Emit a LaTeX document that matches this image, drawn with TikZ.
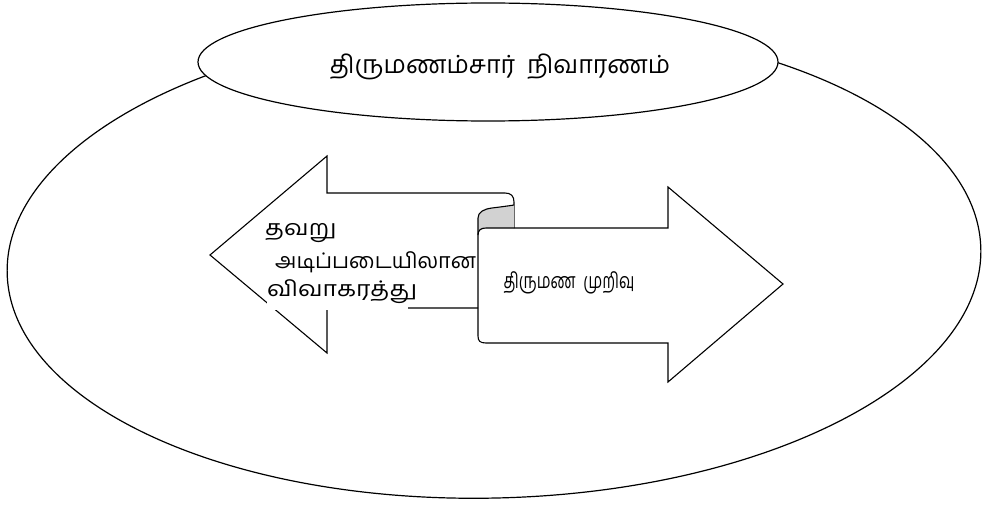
\documentclass[tikz,border=0pt]{standalone}
\usepackage{fontspec}
\newfontfamily\tamil[Script=Tamil]{Hind Madurai}
\usetikzlibrary{shapes.geometric}
\begin{document}
\begin{tikzpicture}[x=1pt,y=-1pt,
  outline/.style={draw=black,line width=1.1pt,line join=miter},
  tlabel/.style={font=\tamil\fontsize{21.5}{24}\selectfont,text=black,inner sep=0pt}]
\useasboundingbox (0,0) rectangle (982,508);
\fill[white] (0,0) rectangle (982,508);
% outer ellipse
\draw[line width=1.2pt, rotate around={1.5:(494,261)}] (494,261) ellipse [x radius=487, y radius=237];
% top ellipse
\node[ellipse, draw, line width=1.2pt, fill=white, minimum width=580pt,
      minimum height=118pt, inner sep=0pt] (topell) at (488,62) {};
\node[tlabel, font=\tamil\fontsize{25}{28}\selectfont] (toptext) at (500,67) {திருமணம்சார்~~நிவாரணம்};
% left arrow
\draw[outline] (478,308) -- (327,308) -- (327,353) -- (210,255) -- (327,156)
  -- (327,193) -- (505,193) .. controls (511,193) and (514,196) .. (514,202) -- (514,228);
% curl shading
\fill[gray!35] (478,231) -- (478,218) .. controls (478,212) and (484,209) .. (492,208)
  .. controls (500,207) and (508,206) .. (514,205) -- (514,228) -- (486,228) -- cycle;
% right arrow
\draw[outline] (514,228) -- (668,228) -- (668,187) -- (783,284) -- (668,382) -- (668,343)
  -- (486,343) .. controls (480,343) and (478,341) .. (478,336) -- (478,218)
  .. controls (478,212) and (484,209) .. (492,208) .. controls (500,207) and (508,206) .. (514,205);
\draw[outline] (478,235) .. controls (478,230) and (481,228) .. (486,228) -- (514,228);
% texts
\node[tlabel, anchor=west, fill=white, text width=141pt, align=left,
      minimum height=36pt] (l3) at (267,292) {\scalebox{1.15}[1]{விவாகரத்து}};
\node[tlabel, anchor=west] (l1) at (265,233) {\scalebox{1.15}[1]{தவறு}};
\node[tlabel, anchor=west] (l2) at (275,262) {அடிப்படையிலான};
\node[tlabel] (rtext) at (569,283) {\scalebox{0.72}[1]{திருமண~~முறிவு}};
\end{tikzpicture}
\end{document}
